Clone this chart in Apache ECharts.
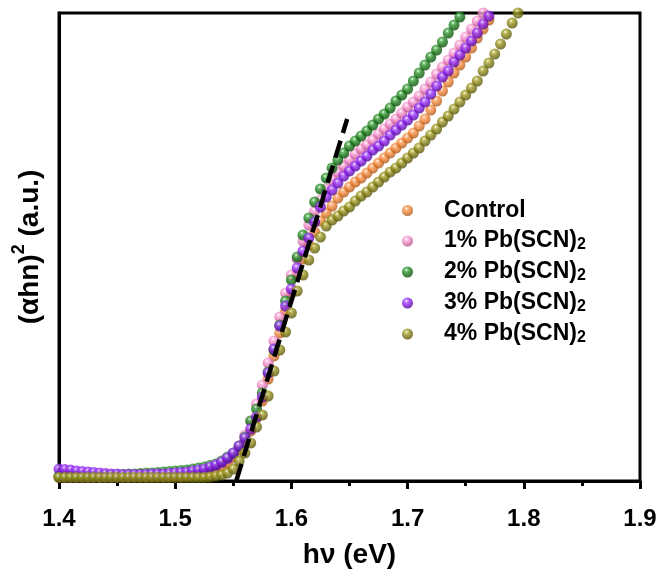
<!DOCTYPE html>
<html><head><meta charset="utf-8">
<script src="https://cdn.jsdelivr.net/npm/echarts@6/dist/echarts.min.js"></script>
<style>html,body{margin:0;padding:0;background:#fff}#c{width:661px;height:571px}</style>
</head><body><div id="c"></div>
<script>
const energy = [1.400,1.405,1.410,1.415,1.420,1.425,1.430,1.435,1.440,1.445,1.450,1.455,1.460,1.465,1.470,1.475,1.480,1.485,1.490,1.495,
1.500,1.505,1.510,1.515,1.520,1.525,1.530,1.535,1.540,1.545,1.550,1.555,1.560,1.565,1.570,1.575,1.580,1.585,1.590,1.595,
1.600,1.605,1.610,1.615,1.620,1.625,1.630,1.635,1.640,1.645,1.650,1.655,1.660,1.665,1.670,1.675,1.680,1.685,1.690,1.695,
1.700,1.705,1.710,1.715,1.720,1.725,1.730,1.735,1.740,1.745,1.750,1.755,1.760,1.765,1.770,1.775,1.780,1.785,1.790,1.795];
const seriesNames = ['Control','1% Pb(SCN)2','2% Pb(SCN)2','3% Pb(SCN)2','4% Pb(SCN)2'];
const control = [4,4,4,4,4,4,4,4,4,4,4,4,4,4,4,4,4.5,4.5,4.5,4.5,5,5,5.5,6,6.5,7.5,9,11,14,18,24,31,40,50,63,80,102,125,148,170,
188,206,222,236,249,260,268,275,283,289,294,299,303,308,313,318,323,328,333,338,343,348,355,362,371,380,390,399,408,416,424,433,443,452,461,470];
const pb1 = [4,4,4,4,4,4,4,4,4.5,4.5,4.5,5,5,5,5.5,5.5,6,6,6.5,7,7,7.5,8,9,10,11,13,15,18,22,27,35,46,60,77,96,118,140,164,188,
206,222,240,256,270,281,292,301,309,315,321,327,332,336,341,347,352,357,362,368,374,379,385,392,399,407,414,421,428,436,444,452,460,468,476];
const pb2 = [5,5,5,5,5,5.5,5.5,5.5,6,6,6,6.5,7,7,7.5,8,8,8.5,9,9.5,10,10.5,11,12,13,14,15.5,17,20,24,28,35,44,60,72,88,109,131,156,180,
201,224,246,263,279,292,303,313,321,328,335,340,345,350,356,362,367,373,380,386,392,400,408,416,424,431,439,448,456,464,472];
const pb3 = [12,11.5,11,10,9.5,9,8.5,8,7.5,7,7,6.5,6.5,6.5,6.5,6.5,7,7,7,7.5,8,8.5,9,10,11,12,14,16,19,23,28,35,43,52,64,84,108,132,155,175,
192,213,230,243,259,274,284,291,298,305,310,315,320,325,331,335,340,346,351,356,361,366,373,379,387,395,404,410,419,426,433,440,448,457,465,472];
const pb4 = [3.5,3.5,3.5,3.5,3.5,3.5,3.5,3.5,3.5,3.5,3.5,3.5,3.5,3.5,3.5,3.5,3.5,3.5,3.5,3.5,3.5,3.5,3.5,3.5,3.5,3.5,4,5,6,8,12,20,28,38,54,66,85,110,131,149,
168,190,206,221,233,244,255,261,265,270,274,280,285,289,294,299,304,309,313,318,323,328,333,340,346,352,359,365,372,379,386,393,400,410,418,427,437,447,458,468];
const fitLineX = [1.5525, 1.648];
const fitLineY = [0, 362];
const xTicks = [1.4,1.5,1.6,1.7,1.8,1.9];

const colors = [['#f7a56a','#ef8435','#a8561b'],['#f9b5dc','#ee86c4','#b05088'],['#4fae4f','#1b7d1b','#0c4a0c'],['#b060ff','#8a1ee8','#4f0a95'],['#b4b040','#898519','#55520a']];
const allVals = [control,pb1,pb2,pb3,pb4];
function sphere(c){
  return new echarts.graphic.RadialGradient(0.4,0.32,0.7,[
    {offset:0,color:'#ffffff'},{offset:0.2,color:c[0]},{offset:0.5,color:c[1]},{offset:1,color:c[2]}]);
}
const series = allVals.map((vals,k)=>({
  name: seriesNames[k], type:'scatter', symbol:'circle', symbolSize:11,
  data: vals.map((v,i)=>[energy[i], v]),
  itemStyle:{color:sphere(colors[k])}, z: 2+k, clip:true
}));
series.push({
  name:'fit', type:'line', data: fitLineX.map((x,i)=>[x,fitLineY[i]]), symbol:'none', z:20,
  lineStyle:{color:'#000',width:4.5,type:[18,8]}, clip:true, silent:true
});

const chart = echarts.init(document.getElementById('c'));
chart.setOption({
  animation:false,
  grid:{left:59,right:21,top:13,bottom:90,show:true,borderColor:'#000',borderWidth:3,outerBoundsMode:'none',containLabel:false},
  xAxis:{type:'value',min:1.4,max:1.9,interval:0.1,
    axisLine:{show:true,lineStyle:{color:'#000',width:3}},
    axisTick:{show:true,inside:false,length:8,lineStyle:{color:'#000',width:3}},
    minorTick:{show:true,splitNumber:2,length:5,lineStyle:{color:'#000',width:3}},
    splitLine:{show:false},
    axisLabel:{color:'#000',fontSize:24,fontWeight:'bold',fontFamily:'Liberation Sans',margin:26,
      formatter:v=>{const t=xTicks.find(a=>Math.abs(a-v)<1e-6);return t!==undefined?t.toFixed(1):'';}},
    name:'hν (eV)',nameLocation:'middle',nameGap:60,
    nameTextStyle:{color:'#000',fontSize:28,fontWeight:'bold',fontFamily:'Liberation Sans'}
  },
  yAxis:{type:'value',min:0,max:468,
    axisLine:{show:true,lineStyle:{color:'#000',width:3}},
    axisTick:{show:false},axisLabel:{show:false},splitLine:{show:false},
    name:'{m|(αhn)}{s|2}{m| (a.u.)}',nameLocation:'middle',nameGap:15,nameRotate:90,
    nameTextStyle:{rich:{
      m:{color:'#000',fontSize:28,fontWeight:'bold',fontFamily:'Liberation Sans',lineHeight:34,verticalAlign:'bottom'},
      s:{color:'#000',fontSize:18,fontWeight:'bold',fontFamily:'Liberation Sans',lineHeight:34,verticalAlign:'top'}}}
  },
  legend:{data:seriesNames,orient:'vertical',left:402,top:199,padding:0,itemWidth:11,itemHeight:11,itemGap:3,icon:'circle',
    formatter:n=>{const m=n.match(/^(.*)2$/);return m?'{t|'+m[1]+'}{u|2}':'{t|'+n+'}';},
    textStyle:{padding:[0,0,0,26],rich:{
      t:{color:'#000',fontSize:23,fontWeight:'bold',fontFamily:'Liberation Sans',lineHeight:24,verticalAlign:'middle'},
      u:{color:'#000',fontSize:16,fontWeight:'bold',fontFamily:'Liberation Sans',lineHeight:24,verticalAlign:'bottom',padding:[12,0,0,0]}}}
  },
  series:series
});
</script></body></html>
